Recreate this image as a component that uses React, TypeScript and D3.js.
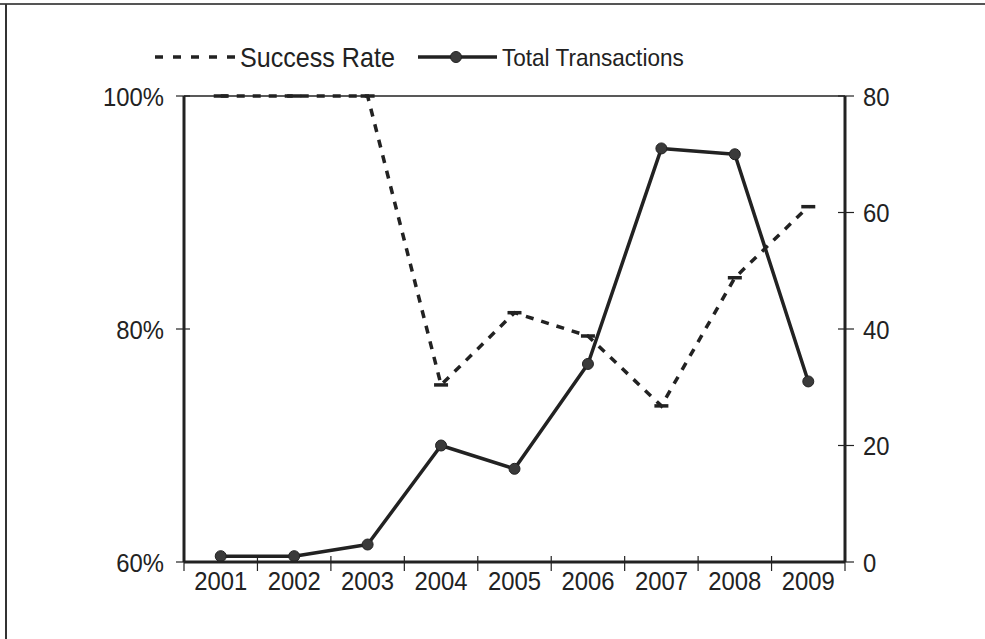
import React from "react";
import * as d3 from "d3";

const years = ["2001", "2002", "2003", "2004", "2005", "2006", "2007", "2008", "2009"];
const successRate = [100, 100, 100, 75.2, 81.4, 79.4, 73.4, 84.4, 90.5];
const totalTransactions = [1, 1, 3, 20, 16, 34, 71, 70, 31];
const leftTicks = [60, 80, 100];
const rightTicks = [0, 20, 40, 60, 80];

const W = 985, H = 639;
const M = { left: 184, right: 845, top: 96, bottom: 562 };
const INK = "#222";
const FONT = "'Liberation Sans', Arial, Helvetica, sans-serif";

function T(props: { x: number; y: number; size: number; sx: number; anchor?: "start" | "middle" | "end"; dy?: string; children: React.ReactNode }) {
  const { x, y, size, sx, anchor = "start", dy = "0", children } = props;
  return (
    <text transform={`translate(${x},${y}) scale(${sx},1)`} dy={dy} textAnchor={anchor} fontSize={size} fill={INK}>
      {children}
    </text>
  );
}

export default function App() {
  const x = d3.scaleBand<string>().domain(years).range([M.left, M.right]);
  const yL = d3.scaleLinear().domain([60, 100]).range([M.bottom, M.top]);
  const yR = d3.scaleLinear().domain([0, 80]).range([M.bottom, M.top]);
  const cx = (d: string) => (x(d) as number) + x.bandwidth() / 2;

  const srLine = d3.line<number>().x((_, i) => cx(years[i])).y((v) => yL(v));
  const ttLine = d3.line<number>().x((_, i) => cx(years[i])).y((v) => yR(v));

  const boundaries = years.map((d) => x(d) as number).concat([M.right]);

  return (
    <svg width={W} height={H} style={{ position: "absolute", left: 0, top: 0, display: "block", background: "#fff" }} fontFamily={FONT}>
      {/* outer frame (top & left) */}
      <line x1={0} x2={W} y1={4} y2={4} stroke="#555" strokeWidth={2} />
      <line x1={6} x2={6} y1={4} y2={H} stroke="#333" strokeWidth={2} />

      {/* plot top frame */}
      <line x1={M.left} x2={M.right} y1={M.top} y2={M.top} stroke={INK} strokeWidth={1.5} />

      {/* Success Rate dashed line */}
      <path d={srLine(successRate) || ""} fill="none" stroke={INK} strokeWidth={3.5} strokeDasharray="8,8" />
      {successRate.map((v, i) => (
        <line key={"sm" + i} x1={cx(years[i]) - 7} x2={cx(years[i]) + 7} y1={yL(v)} y2={yL(v)} stroke={INK} strokeWidth={3.5} />
      ))}

      {/* Total Transactions solid line */}
      <path d={ttLine(totalTransactions) || ""} fill="none" stroke={INK} strokeWidth={3.5} strokeLinejoin="round" />
      {totalTransactions.map((v, i) => (
        <circle key={"tm" + i} cx={cx(years[i])} cy={yR(v)} r={5.5} fill="#3a3a3a" stroke={INK} strokeWidth={1} />
      ))}

      {/* axes */}
      <line x1={M.left} x2={M.left} y1={M.top} y2={M.bottom} stroke={INK} strokeWidth={3} />
      <line x1={M.right} x2={M.right} y1={M.top} y2={M.bottom} stroke={INK} strokeWidth={3} />
      <line x1={M.left} x2={M.right} y1={M.bottom} y2={M.bottom} stroke={INK} strokeWidth={3} />

      {/* left ticks */}
      {leftTicks.map((t) => (
        <g key={"lt" + t}>
          <line x1={M.left - 8} x2={M.left + 6} y1={yL(t)} y2={yL(t)} stroke={INK} strokeWidth={1.2} />
          <T x={164} y={yL(t)} dy="0.36em" anchor="end" size={26.5} sx={0.9}>{t}%</T>
        </g>
      ))}

      {/* right ticks */}
      {rightTicks.map((t) => (
        <g key={"rt" + t}>
          <line x1={M.right - 7} x2={M.right + 9} y1={yR(t)} y2={yR(t)} stroke={INK} strokeWidth={1.2} />
          <T x={863} y={yR(t)} dy="0.36em" anchor="start" size={26.5} sx={0.9}>{t}</T>
        </g>
      ))}

      {/* x ticks */}
      {boundaries.map((b, i) => (
        <line key={"xt" + i} x1={b} x2={b} y1={M.bottom - 6} y2={M.bottom + 9} stroke={INK} strokeWidth={1.2} />
      ))}
      {years.map((d) => (
        <T key={"xl" + d} x={cx(d)} y={590} anchor="middle" size={26.5} sx={0.9}>{d}</T>
      ))}

      {/* legend */}
      <line x1={155} x2={237} y1={57} y2={57} stroke={INK} strokeWidth={3.5} strokeDasharray="8,10" />
      <T x={240} y={57} dy="0.36em" size={27} sx={0.93}>Success Rate</T>
      <line x1={418} x2={497} y1={57} y2={57} stroke={INK} strokeWidth={3.5} />
      <circle cx={456} cy={57} r={5.5} fill="#3a3a3a" stroke={INK} strokeWidth={1} />
      <T x={502} y={57} dy="0.36em" size={24} sx={0.94}>Total Transactions</T>
    </svg>
  );
}
